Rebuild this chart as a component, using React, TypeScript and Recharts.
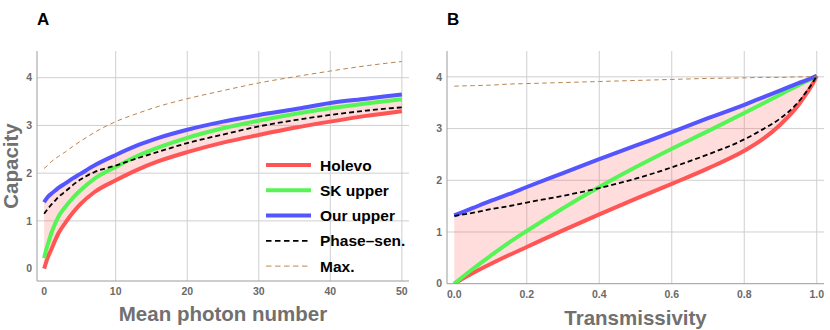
import React from 'react';
import { ComposedChart, Line, Area, XAxis, YAxis, CartesianGrid, Legend } from 'recharts';

// ---------- Panel A data (Mean photon number) ----------
const photonN = [0, 0.25, 0.5, 1, 1.5, 2, 3, 4, 5, 7, 10, 13, 16, 20, 25, 30, 35, 40, 45, 50];
const holevoA = [0, 0.12, 0.23, 0.4, 0.58, 0.74, 0.97, 1.17, 1.34, 1.6, 1.85, 2.07, 2.25, 2.44, 2.64, 2.8, 2.95, 3.08, 3.2, 3.3];
const skUpperA = [0.22, 0.38, 0.5, 0.74, 0.93, 1.09, 1.3, 1.48, 1.63, 1.88, 2.13, 2.36, 2.54, 2.74, 2.94, 3.1, 3.24, 3.36, 3.46, 3.55];
const ourUpperA = [1.39, 1.45, 1.5, 1.57, 1.63, 1.69, 1.79, 1.89, 1.98, 2.16, 2.38, 2.58, 2.74, 2.91, 3.08, 3.22, 3.34, 3.47, 3.56, 3.65];
const phaseSenA = [1.15, 1.2, 1.25, 1.34, 1.42, 1.5, 1.62, 1.75, 1.86, 2.02, 2.16, 2.31, 2.45, 2.63, 2.81, 2.98, 3.11, 3.22, 3.31, 3.38];
const maxA = [2.1, 2.13, 2.17, 2.24, 2.3, 2.35, 2.45, 2.56, 2.66, 2.85, 3.08, 3.25, 3.4, 3.56, 3.73, 3.89, 4.02, 4.14, 4.25, 4.34];

// ---------- Panel B data (Transmissivity) ----------
const transmissivity = [0, 0.05, 0.1, 0.15, 0.2, 0.3, 0.4, 0.5, 0.6, 0.7, 0.8, 0.85, 0.9, 0.95, 0.97, 0.99, 1.0];
const holevoB = [0, 0.2, 0.38, 0.55, 0.71, 1.03, 1.34, 1.64, 1.93, 2.23, 2.57, 2.79, 3.08, 3.46, 3.66, 3.88, 4.02];
const skUpperB = [0, 0.28, 0.54, 0.79, 1.02, 1.46, 1.87, 2.25, 2.61, 2.95, 3.3, 3.48, 3.66, 3.84, 3.91, 3.98, 4.02];
const ourUpperB = [1.32, 1.46, 1.6, 1.73, 1.87, 2.14, 2.41, 2.67, 2.93, 3.2, 3.46, 3.6, 3.74, 3.88, 3.93, 3.99, 4.02];
const phaseSenB = [1.31, 1.37, 1.44, 1.5, 1.57, 1.7, 1.85, 2.03, 2.25, 2.5, 2.79, 2.98, 3.2, 3.52, 3.7, 3.9, 4.02];
const maxB = [3.82, 3.83, 3.84, 3.86, 3.87, 3.89, 3.91, 3.93, 3.95, 3.97, 3.98, 3.99, 3.99, 4.0, 4.0, 4.0, 4.0];

// ---------- Ticks ----------
const xTicksA = [0, 10, 20, 30, 40, 50];
const yTicksA = [0, 1, 2, 3, 4];
const xTicksB = [0, 0.2, 0.4, 0.6, 0.8, 1.0];
const yTicksB = [0, 1, 2, 3, 4];
const xGridA = [10, 20, 30, 40, 50];
const yGridA = [1, 2, 3, 4];
const xGridB = [0.2, 0.4, 0.6, 0.8, 1.0];
const yGridB = [1, 2, 3, 4];

const legendNames = ['Holevo', 'SK upper', 'Our upper', 'Phase\u2013sen.', 'Max.'];

const RED = '#FF5555';
const GREEN = '#55F555';
const BLUE = '#5555FF';
const BLACK = '#000000';
const BROWN = '#B8844F';
const FRAME = '#9c9c9c';
const GRID = '#cfcfcf';
const TICK_TEXT = '#6a6a6a';
const FONT = '"Liberation Sans", Arial, Helvetica, sans-serif';

const steps = (start: number, end: number, step: number) => {
  const out: number[] = [];
  const n = Math.round((end - start) / step);
  for (let i = 0; i <= n; i++) out.push(Math.round((start + i * step) * 1000) / 1000);
  return out;
};

const dataA = photonN.map((x, i) => ({
  x,
  holevo: holevoA[i],
  sk: skUpperA[i],
  our: ourUpperA[i],
  phase: phaseSenA[i],
  max: maxA[i],
}));

const dataB = transmissivity.map((x, i) => ({
  x,
  holevo: holevoB[i],
  sk: skUpperB[i],
  our: ourUpperB[i],
  phase: phaseSenB[i],
  max: maxB[i],
}));

const tickStyle = { fill: TICK_TEXT, fontSize: 10.5, fontWeight: 'bold', fontFamily: FONT };

const LegendBox = () => {
  const rows = [0, 25.3, 50.6, 75.9, 101.2].map((d) => 15 + d);
  const styles = [
    { stroke: RED, width: 4, dash: undefined },
    { stroke: GREEN, width: 4, dash: undefined },
    { stroke: BLUE, width: 4, dash: undefined },
    { stroke: BLACK, width: 1.8, dash: '5.5 3.5' },
    { stroke: '#C9A07A', width: 1.2, dash: '5.5 3.5' },
  ];
  return (
    <svg width={155} height={130} style={{ display: 'block' }}>
      {legendNames.map((name, i) => (
        <g key={name}>
          <line x1={6} x2={51} y1={rows[i]} y2={rows[i]} stroke={styles[i].stroke}
            strokeWidth={styles[i].width} strokeDasharray={styles[i].dash} />
          <text x={60} y={rows[i] + 5.5} fontSize={15.5} fontWeight="bold" fontFamily={FONT} fill="#000">
            {name}
          </text>
        </g>
      ))}
    </svg>
  );
};

type PanelProps = {
  data: any[];
  xDomain: [number, number];
  yDomain: [number, number];
  xMajor: number[];
  yMajor: number[];
  xMinor: number[];
  yMinor: number[];
  xGrid: number[];
  yGrid: number[];
  xFormat?: (v: number) => string;
  yAxisWidth: number;
  marginBottom: number;
  showLegend?: boolean;
};

const Panel = (p: PanelProps) => {
  const common = { type: 'number' as const, allowDataOverflow: true };
  const gridProps: any = { verticalValues: p.xGrid, horizontalValues: p.yGrid };
  return (
    <ComposedChart width={415} height={330} data={p.data}
      margin={{ top: 51, right: 6, bottom: p.marginBottom, left: 0 }}>
      <CartesianGrid stroke={GRID} strokeWidth={1} {...gridProps} />
      {/* main labeled axes */}
      <XAxis dataKey="x" {...common} domain={p.xDomain} ticks={p.xMajor} interval={0} height={20}
        tickSize={0} tickMargin={7} tickLine={false} axisLine={{ stroke: FRAME }} tick={tickStyle}
        tickFormatter={p.xFormat} />
      <YAxis {...common} domain={p.yDomain} ticks={p.yMajor} interval={0} width={p.yAxisWidth}
        tickSize={0} tickMargin={5} tickLine={false} axisLine={{ stroke: FRAME }} tick={tickStyle} />
      {/* inward frame ticks */}
      <XAxis xAxisId="bMaj" {...common} domain={p.xDomain} ticks={p.xMajor} interval={0} orientation="bottom" mirror
        height={0} tick={false} tickSize={5} axisLine={false} tickLine={{ stroke: FRAME }} />
      <XAxis xAxisId="bMin" {...common} domain={p.xDomain} ticks={p.xMinor} interval={0} orientation="bottom" mirror
        height={0} tick={false} tickSize={2.5} axisLine={false} tickLine={{ stroke: FRAME }} />
      <XAxis xAxisId="tMaj" {...common} domain={p.xDomain} ticks={p.xMajor} interval={0} orientation="top" mirror
        height={0} tick={false} tickSize={5} axisLine={{ stroke: FRAME }} tickLine={{ stroke: FRAME }} />
      <XAxis xAxisId="tMin" {...common} domain={p.xDomain} ticks={p.xMinor} interval={0} orientation="top" mirror
        height={0} tick={false} tickSize={2.5} axisLine={false} tickLine={{ stroke: FRAME }} />
      <YAxis yAxisId="lMaj" {...common} domain={p.yDomain} ticks={p.yMajor} interval={0} orientation="left" mirror
        width={0} tick={false} tickSize={5} axisLine={false} tickLine={{ stroke: FRAME }} />
      <YAxis yAxisId="lMin" {...common} domain={p.yDomain} ticks={p.yMinor} interval={0} orientation="left" mirror
        width={0} tick={false} tickSize={2.5} axisLine={false} tickLine={{ stroke: FRAME }} />
      <YAxis yAxisId="rMaj" {...common} domain={p.yDomain} ticks={p.yMajor} interval={0} orientation="right" mirror
        width={0} tick={false} tickSize={5} axisLine={{ stroke: FRAME }} tickLine={{ stroke: FRAME }} />
      <YAxis yAxisId="rMin" {...common} domain={p.yDomain} ticks={p.yMinor} interval={0} orientation="right" mirror
        width={0} tick={false} tickSize={2.5} axisLine={false} tickLine={{ stroke: FRAME }} />

      <Area type="monotone" dataKey={(d: any) => [d.holevo, d.our]} stroke="none" fill={RED}
        fillOpacity={0.2} isAnimationActive={false} />
      <Line type="monotone" dataKey="holevo" stroke={RED} strokeWidth={4} dot={false} isAnimationActive={false} />
      <Line type="monotone" dataKey="sk" stroke={GREEN} strokeWidth={4} dot={false} isAnimationActive={false} />
      <Line type="monotone" dataKey="our" stroke={BLUE} strokeWidth={4} dot={false} isAnimationActive={false} />
      <Line type="monotone" dataKey="phase" stroke={BLACK} strokeWidth={1.8} strokeDasharray="5 3" dot={false}
        isAnimationActive={false} />
      <Line type="monotone" dataKey="max" stroke={BROWN} strokeWidth={1} strokeDasharray="4.5 3.5" dot={false}
        isAnimationActive={false} />
      {p.showLegend && (
        <Legend layout="vertical" align="center" verticalAlign="middle" content={() => <LegendBox />}
          wrapperStyle={{ left: 260, top: 150, width: 155, height: 130 }} />
      )}
    </ComposedChart>
  );
};

export default function App() {
  return (
    <div style={{ position: 'fixed', left: 0, top: 0, width: 830, height: 330, background: '#fff', overflow: 'hidden' }}>
      <div style={{ position: 'absolute', left: 0, top: 0 }}>
        <Panel data={dataA} xDomain={[-1, 51]} yDomain={[-0.26, 4.56]} xMajor={xTicksA} yMajor={yTicksA}
          xMinor={steps(0, 50, 2)} yMinor={steps(-0.2, 4.4, 0.2)} xGrid={xGridA} yGrid={yGridA}
          yAxisWidth={37} marginBottom={29} showLegend />
      </div>
      <div style={{ position: 'absolute', left: 415, top: 0 }}>
        <Panel data={dataB} xDomain={[-0.02, 1.02]} yDomain={[0, 4.5]} xMajor={xTicksB} yMajor={yTicksB}
          xMinor={steps(0, 1, 0.05)} yMinor={steps(0, 4.4, 0.2)} xGrid={xGridB} yGrid={yGridB}
          xFormat={(v: number) => v.toFixed(1)} yAxisWidth={32} marginBottom={26.3} />
      </div>
      <svg width={830} height={330} style={{ position: 'absolute', left: 0, top: 0, pointerEvents: 'none' }}>
        <text x={37} y={25} fontSize={17} fontWeight="bold" fontFamily={FONT} fill="#000">A</text>
        <text x={447} y={25} fontSize={17} fontWeight="bold" fontFamily={FONT} fill="#000">B</text>
        <text x={223} y={321} textAnchor="middle" fontSize={20.5} fontWeight="bold" fontFamily={FONT} fill="#707070">
          Mean photon number
        </text>
        <text x={635.5} y={325} textAnchor="middle" fontSize={20.5} fontWeight="bold" fontFamily={FONT} fill="#707070">
          Transmissivity
        </text>
        <text x={0} y={0} transform="translate(18,166) rotate(-90)" textAnchor="middle" fontSize={20.5}
          fontWeight="bold" fontFamily={FONT} fill="#707070">
          Capacity
        </text>
      </svg>
    </div>
  );
}
